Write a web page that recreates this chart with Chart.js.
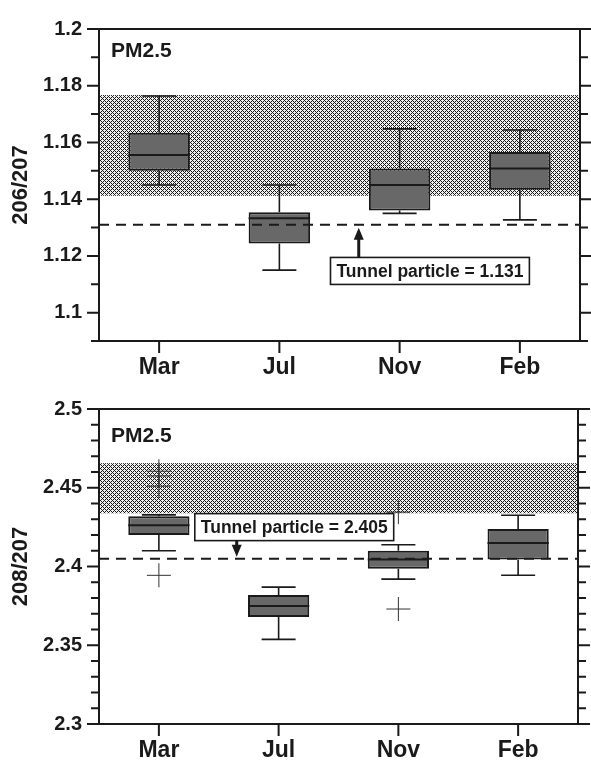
<!DOCTYPE html>
<html>
<head>
<meta charset="utf-8">
<script src="https://cdn.jsdelivr.net/npm/chart.js@4"></script>
<style>
  body { margin: 0; background: #fff; }
  canvas { display: block; }
</style>
</head>
<body>
<canvas id="c206" width="591" height="380"></canvas>
<canvas id="c208" width="591" height="380"></canvas>
<script>
const months = ["Mar", "Jul", "Nov", "Feb"];

// 206/207 boxes
const r206Min = [1.145, 1.115, 1.135, 1.1327];
const r206Q1 = [1.15, 1.1244, 1.136, 1.1433];
const r206Med = [1.1556, 1.1333, 1.145, 1.1508];
const r206Q3 = [1.1634, 1.1354, 1.1508, 1.1566];
const r206Max = [1.1764, 1.145, 1.1648, 1.1644];
const r206Band = [1.1412, 1.1767];
const r206Tunnel = 1.131;

// 208/207 boxes
const r208Min = [2.41, 2.3537, 2.392, 2.3944];
const r208Q1 = [2.42, 2.368, 2.3985, 2.4044];
const r208Med = [2.4262, 2.375, 2.4044, 2.415];
const r208Q3 = [2.4319, 2.3819, 2.41, 2.4238];
const r208Max = [2.4328, 2.3869, 2.4138, 2.4325];
const r208OutMonth = ["Mar", "Mar", "Mar", "Mar", "Nov", "Nov"];
const r208OutVal = [2.4605, 2.4575, 2.451, 2.3944, 2.373, 2.4345];
const r208Band = [2.4338, 2.4656];
const r208Tunnel = 2.405;

const FONT = "'Liberation Sans', Arial, sans-serif";
const INK = "#1a1a1a";

function makeHatch(ctx) {
  const c = document.createElement("canvas");
  c.width = 4;
  c.height = 4;
  const g = c.getContext("2d");
  const img = g.createImageData(4, 4);
  for (let y = 0; y < 4; y++) {
    for (let x = 0; x < 4; x++) {
      const dark = (x + y) % 4 === 0 || (x - y + 4) % 4 === 0;
      const v = dark ? 25 : 240;
      const k = (y * 4 + x) * 4;
      img.data[k] = v;
      img.data[k + 1] = v;
      img.data[k + 2] = v;
      img.data[k + 3] = 255;
    }
  }
  g.putImageData(img, 0, 0);
  return ctx.createPattern(c, "repeat");
}

// extra drawing info per canvas
const extras = {
  c206: {
    min: r206Min, med: r206Med, max: r206Max,
    band: r206Band, tunnel: r206Tunnel,
    label: "Tunnel particle = " + r206Tunnel,
    labelX: 1.425, labelY: 1.1147, arrowX: 1.66, arrowUp: true,
    pmOffset: 22,
    major: (v) => Math.round(v * 100) % 2 === 0,
  },
  c208: {
    min: r208Min, med: r208Med, max: r208Max,
    band: r208Band, tunnel: r208Tunnel,
    label: "Tunnel particle = " + r208Tunnel,
    labelX: 0.3, labelY: 2.425, arrowX: 0.65, arrowUp: false,
    pmOffset: 27,
    major: (v) => Math.round(v * 100) % 5 === 0,
  },
};

const boxDecor = {
  id: "boxDecor",
  beforeDatasetsDraw(chart) {
    const cfg = extras[chart.canvas.id];
    const { ctx, chartArea } = chart;
    const ys = chart.scales.y;
    const top = ys.getPixelForValue(cfg.band[1]);
    const bot = ys.getPixelForValue(cfg.band[0]);
    ctx.save();
    ctx.fillStyle = makeHatch(ctx);
    ctx.fillRect(chartArea.left, top, chartArea.right - chartArea.left, bot - top);
    ctx.restore();
  },
  afterDatasetsDraw(chart) {
    const cfg = extras[chart.canvas.id];
    const { ctx, chartArea } = chart;
    const xs = chart.scales.x;
    const ys = chart.scales.y;
    const bars = chart.getDatasetMeta(0).data;
    const q = chart.data.datasets[0].data;

    ctx.save();
    ctx.strokeStyle = INK;
    bars.forEach((bar, i) => {
      const x = bar.x;
      const half = bar.width / 2;
      const cap = 17;
      const pMin = ys.getPixelForValue(cfg.min[i]);
      const pMax = ys.getPixelForValue(cfg.max[i]);
      const pQ1 = ys.getPixelForValue(q[i][0]);
      const pQ3 = ys.getPixelForValue(q[i][1]);
      const pMed = ys.getPixelForValue(cfg.med[i]);
      ctx.lineWidth = 1.6;
      ctx.beginPath();
      ctx.moveTo(x, pQ3);
      ctx.lineTo(x, pMax);
      ctx.moveTo(x - cap, pMax);
      ctx.lineTo(x + cap, pMax);
      ctx.moveTo(x, pQ1);
      ctx.lineTo(x, pMin);
      ctx.moveTo(x - cap, pMin);
      ctx.lineTo(x + cap, pMin);
      ctx.stroke();
      ctx.lineWidth = 2;
      ctx.beginPath();
      ctx.moveTo(x - half, pMed);
      ctx.lineTo(x + half, pMed);
      ctx.stroke();
    });

    // tunnel particle line
    const ty = ys.getPixelForValue(cfg.tunnel);
    ctx.lineWidth = 2;
    ctx.setLineDash([10, 7]);
    ctx.beginPath();
    ctx.moveTo(chartArea.left, ty);
    ctx.lineTo(chartArea.right, ty);
    ctx.stroke();
    ctx.setLineDash([]);

    // label box
    ctx.font = "bold 17.5px " + FONT;
    const tw = ctx.measureText(cfg.label).width;
    const lx = xs.getPixelForValue(cfg.labelX);
    const ly = ys.getPixelForValue(cfg.labelY);
    const bw = tw + 12;
    const bh = 27;
    ctx.fillStyle = "#fff";
    ctx.fillRect(lx, ly - bh / 2, bw, bh);
    ctx.lineWidth = 1.6;
    ctx.strokeRect(lx, ly - bh / 2, bw, bh);
    ctx.fillStyle = INK;
    ctx.textBaseline = "middle";
    ctx.textAlign = "left";
    ctx.fillText(cfg.label, lx + 6, ly + 1);

    // arrow
    const ax = xs.getPixelForValue(cfg.arrowX);
    const start = cfg.arrowUp ? ly - bh / 2 : ly + bh / 2;
    const tip = cfg.arrowUp ? ty + 3 : ty - 2;
    const dir = cfg.arrowUp ? 1 : -1;
    ctx.lineWidth = 3;
    ctx.beginPath();
    ctx.moveTo(ax, start);
    ctx.lineTo(ax, tip + dir * 8);
    ctx.stroke();
    ctx.beginPath();
    ctx.moveTo(ax, tip);
    ctx.lineTo(ax - 5, tip + dir * 12);
    ctx.lineTo(ax + 5, tip + dir * 12);
    ctx.closePath();
    ctx.fill();
    ctx.restore();
  },
  afterDraw(chart) {
    const cfg = extras[chart.canvas.id];
    const { ctx, chartArea } = chart;
    const xs = chart.scales.x;
    const ys = chart.scales.y;
    ctx.save();
    ctx.strokeStyle = INK;
    ctx.lineWidth = 2;
    ctx.strokeRect(chartArea.left, chartArea.top, chartArea.right - chartArea.left, chartArea.bottom - chartArea.top);

    ctx.beginPath();
    ys.ticks.forEach((t) => {
      const y = ys.getPixelForValue(t.value);
      const len = cfg.major(t.value) ? 12 : 8;
      ctx.moveTo(chartArea.left - len, y);
      ctx.lineTo(chartArea.left, y);
      ctx.moveTo(chartArea.right, y);
      ctx.lineTo(chartArea.right + len, y);
    });
    months.forEach((m, i) => {
      const x = xs.getPixelForValue(i);
      ctx.moveTo(x, chartArea.bottom);
      ctx.lineTo(x, chartArea.bottom + 12);
    });
    ctx.stroke();

    ctx.fillStyle = INK;
    ctx.font = "bold 21px " + FONT;
    ctx.textBaseline = "middle";
    ctx.textAlign = "left";
    ctx.fillText("PM2.5", chartArea.left + 12, chartArea.top + cfg.pmOffset);
    ctx.restore();
  },
};

function buildChart(id, q1, q3, outMonths, outVals, yMin, yMax, yTitle, padTop, xHeight) {
  const cfg = extras[id];
  const outliers = outMonths.map((m, i) => ({ x: m, y: outVals[i] }));
  return new Chart(document.getElementById(id), {
    type: "bar",
    data: {
      labels: months,
      datasets: [
        {
          data: q1.map((v, i) => [v, q3[i]]),
          backgroundColor: "#686868",
          borderColor: INK,
          borderWidth: 2,
          borderSkipped: false,
          barPercentage: 0.72,
          categoryPercentage: 0.71,
          order: 2,
        },
        {
          type: "line",
          data: outliers,
          showLine: false,
          pointStyle: "cross",
          pointRadius: 12,
          pointBorderWidth: 1,
          pointBorderColor: "#333",
          order: 1,
        },
      ],
    },
    options: {
      responsive: false,
      animation: false,
      layout: { padding: { top: padTop, right: 11, left: 0, bottom: 0 } },
      plugins: {
        legend: { display: false },
        tooltip: { enabled: false },
      },
      scales: {
        x: {
          grid: { display: false, drawTicks: false },
          border: { display: false },
          ticks: {
            padding: 13,
            color: INK,
            font: { family: FONT, size: 23, weight: "bold" },
          },
          afterFit: (s) => {
            s.height = xHeight;
          },
        },
        y: {
          min: yMin,
          max: yMax,
          grid: { display: false, drawTicks: false },
          border: { display: false },
          ticks: {
            stepSize: 0.01,
            maxTicksLimit: 100,
            autoSkip: false,
            padding: 17,
            color: INK,
            font: { family: FONT, size: 20, weight: "bold" },
            callback: (v) => (cfg.major(v) ? String(parseFloat(v.toFixed(2))) : ""),
          },
          title: {
            display: true,
            text: yTitle,
            color: INK,
            font: { family: FONT, size: 22, weight: "bold" },
            padding: { top: 8, bottom: 0 },
          },
          afterFit: (s) => {
            s.width = 99;
          },
        },
      },
    },
    plugins: [boxDecor],
  });
}

buildChart("c206", r206Q1, r206Q3, [], [], 1.09, 1.2, "206/207", 20, 39);
buildChart("c208", r208Q1, r208Q3, r208OutMonth, r208OutVal, 2.3, 2.5, "208/207", 25, 36);
</script>
</body>
</html>
